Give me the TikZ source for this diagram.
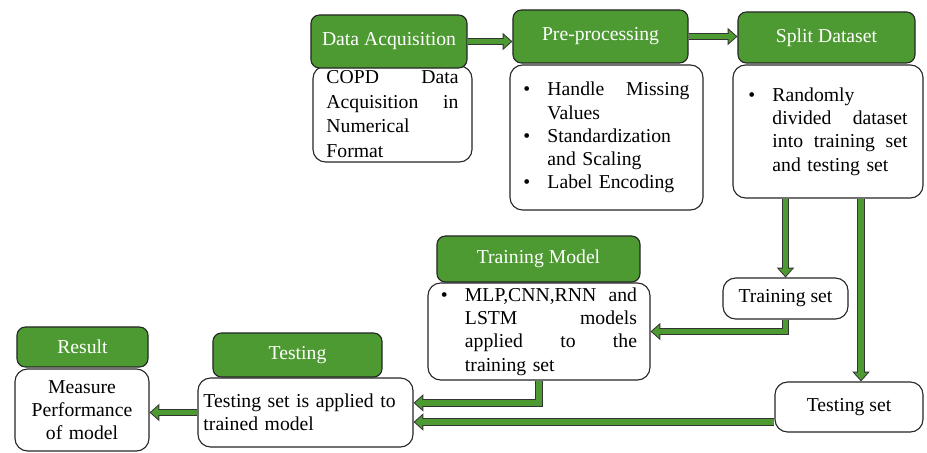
\documentclass[tikz,border=0pt]{standalone}
\usepackage{fontspec}
\setmainfont{Liberation Serif}
\usepackage{xcolor}
\usetikzlibrary{arrows.meta,calc}
\definecolor{hdrgreen}{RGB}{78,154,50}
\newcommand{\bul}{\makebox[0.6cm][l]{\textbullet}}
\newcommand{\ind}{\makebox[0.6cm]{}}

\begin{document}
\begin{tikzpicture}[x=0.025cm, y=-0.025cm,
        header/.style={draw=black!85, line width=0.8pt, fill=hdrgreen, rounded corners=6pt,
            text=white, font=\fontsize{14}{17}\selectfont, inner sep=0pt},
        body/.style={draw=black!85, line width=0.8pt, fill=white, rounded corners=9pt,
            font=\fontsize{14}{16.5}\selectfont, inner sep=0pt, align=left},
        flow/.style={draw=black!80, line width=5.2pt, line join=miter,
            -{Triangle[length=7pt, width=12.5pt, line width=0pt]},
            postaction={draw=hdrgreen, line width=3.8pt,
                -{Triangle[length=5.25pt, width=9.4pt, line width=0pt]}, shorten >=1.05pt}}]
        \useasboundingbox (0,0) rectangle (927,453);

        % Body boxes
        \node[body, minimum width=3.975cm, minimum height=2.4cm, text width=3.3cm,
            font=\fontsize{14}{17.5}\selectfont] (bAcq) at (392.5,114)
            {COPD\hfill Data\\ Acquisition\hfill in\\ Numerical\\ Format};
        \node[body, minimum width=4.825cm, minimum height=3.625cm, text width=4.15cm] (bPre) at (606.5,137.5)
            {\bul Handle\hfill Missing\\ \ind Values\\ \bul Standardization\\ \ind and Scaling\\ \bul Label Encoding};
        \node[body, minimum width=4.75cm, minimum height=3.325cm, text width=3.975cm] (bSplit) at (828,131.5)
            {\bul Randomly\\ \ind divided\hfill dataset\\ \ind into\hfill training\hfill set\\ \ind and testing set};
        \node[body, minimum width=5.55cm, minimum height=2.425cm, text width=4.9cm] (bTrain) at (539,331.5)
            {\bul MLP,CNN,RNN\hfill and\\ \ind LSTM\hfill models\\ \ind applied\hfill to\hfill the\\ \ind training set};
        \node[body, minimum width=5.375cm, minimum height=1.725cm, text width=5.1cm] (bTest) at (305.5,412.5)
            {Testing set is applied to\\ trained model};
        \node[body, minimum width=3.35cm, minimum height=2.05cm, text width=3cm, align=center] (bRes) at (82,410)
            {Measure\\ Performance\\ of model};
        \node[body, minimum width=3.125cm, minimum height=1.025cm, align=center] (trSet) at (785.5,298.5) {Training set};
        \node[body, minimum width=3.7cm, minimum height=1.25cm, align=center] (teSet) at (849,407) {Testing set};

        % Header boxes
        \node[header, minimum width=3.9cm, minimum height=1.325cm] (hAcq) at (389,41.5) {Data Acquisition};
        \node[header, minimum width=4.375cm, minimum height=1.325cm] (hPre) at (600.5,36.5) {Pre-processing};
        \node[header, minimum width=4.425cm, minimum height=1.275cm] (hSplit) at (826.5,37.5) {Split Dataset};
        \node[header, minimum width=5.075cm, minimum height=1.15cm] (hTrain) at (538.5,259) {Training Model};
        \node[header, minimum width=4.225cm, minimum height=1.1cm] (hTest) at (297.5,355) {Testing};
        \node[header, minimum width=3.275cm, minimum height=1cm] (hRes) at (82.5,347) {Result};

        % Connectors
        \coordinate (teIn) at ($(teSet.north)+(0.3cm,0)$);
        \coordinate (teOut) at ([yshift=-0.375cm]teSet.west);
        \draw[flow] (hAcq.east) -- (hAcq.east -| hPre.west);
        \draw[flow] (hPre.east) -- (hPre.east -| hSplit.west);
        \draw[flow] (trSet.north |- bSplit.south) -- (trSet.north);
        \draw[flow] (teIn |- bSplit.south) -- (teIn);
        \draw[flow] (trSet.south) |- (bTrain.east);
        \draw[flow] (bTrain.south) |- ([yshift=0.24cm]bTest.east);
        \draw[flow] (teOut) -- (teOut -| bTest.east);
        \draw[flow] (bTest.west) -- (bTest.west -| bRes.east);
    \end{tikzpicture}
\end{document}
